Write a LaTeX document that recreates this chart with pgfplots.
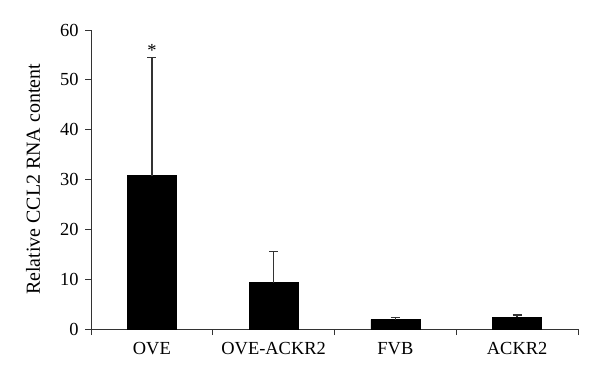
\documentclass[border=0pt]{standalone}
\usepackage{pgfplots}
\pgfplotsset{compat=1.18}
\usepackage{fontspec}
\setmainfont{Liberation Serif}
\begin{document}
\begin{tikzpicture}
\useasboundingbox (0,0) rectangle (600bp,379bp);
\begin{axis}[
  at={(91bp,50bp)}, anchor=south west,
  scale only axis, width=487bp, height=299bp,
  xmin=-0.5, xmax=3.5, ymin=0, ymax=60,
  axis x line*=bottom, axis y line*=left,
  axis line style={black!80, line width=1pt},
  every tick/.style={black!80, line width=1pt},
  tick align=outside,
  xtick={0,1,2,3},
  xticklabels={OVE,OVE-ACKR2,FVB,ACKR2},
  major x tick style={draw=none},
  minor xtick={-0.5,0.5,1.5,2.5,3.5},
  minor tick length=6bp,
  major tick length=6bp,
  ytick={0,10,20,30,40,50,60},
  /pgf/number format/assume math mode=true,
  tick label style={font=\fontsize{18.5}{21}\selectfont},
  xticklabel style={yshift=-4bp},
  yticklabel style={xshift=-3bp},
  ylabel={Relative CCL2 RNA content},
  ylabel style={at={(axis description cs:-0.119,0.5)}, anchor=center, font=\fontsize{20}{23}\selectfont},
  ybar, bar width=49bp,
  clip=false,
]
\addplot[fill=black, draw=black,
  error bars/.cd, y dir=plus, y explicit,
  error bar style={line width=1.3pt, black!80},
  error mark options={rotate=90, mark size=4.5bp, line width=1.3pt, black!80}]
  coordinates {
    (0,30.8) +- (0,23.7)
    (1,9.3) +- (0,6.2)
    (2,1.9) +- (0,0.4)
    (3,2.35) +- (0,0.45)
  };
\node[anchor=south, inner sep=1bp, font=\fontsize{18.5}{21}\selectfont] at (axis cs:0,54.5) {*};
\end{axis}
\end{tikzpicture}
\end{document}
